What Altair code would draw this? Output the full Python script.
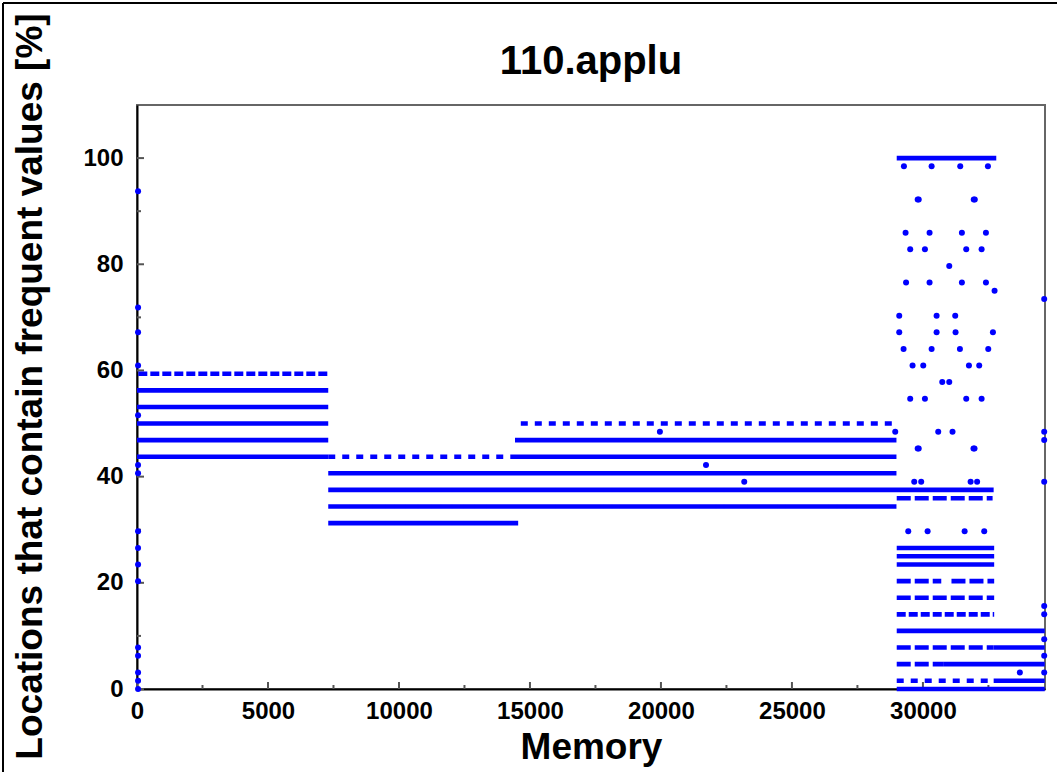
import altair as alt
import pandas as pd

# ---------------- data ----------------
TITLE = "110.applu"
X_TITLE = "Memory"
Y_TITLE = "Locations that contain frequent values [%]"

# horizontal bands of points (start memory, end memory, level %, texture)
seg_x0 = [50, 0, 0, 0, 0, 0,
          7300, 7300, 7300, 7300, 7300,
          14250, 14430, 14650,
          29000, 29000, 29000, 29000, 29000,
          29000, 31090, 29000, 29000, 29000,
          29000, 32700, 29000, 30800, 29000, 32700, 29000]
seg_x1 = [7300, 7300, 7300, 7300, 7300, 7300,
          14250, 28990, 32700, 28990, 14550,
          28990, 28990, 28900,
          32800, 32660, 32720, 32720, 32720,
          30700, 32720, 32720, 32720, 34650,
          32700, 34650, 30800, 34650, 32700, 34650, 34650]
seg_y = [59.38, 56.25, 53.13, 50.0, 46.88, 43.75,
         43.75, 40.63, 37.5, 34.38, 31.25,
         43.75, 46.88, 50.0,
         100.0, 35.94, 26.56, 25.0, 23.44,
         20.31, 20.31, 17.19, 14.06, 10.94,
         7.81, 7.81, 4.69, 4.69, 1.56, 1.56, 0.0]
seg_style = ["dense", "solid", "solid", "solid", "solid", "solid",
             "dotted", "solid", "solid", "solid", "solid",
             "solid", "solid", "dotted",
             "solid", "dashed", "solid", "solid", "solid",
             "dashed", "dashed", "dashed", "dense", "solid",
             "dashed", "solid", "dashed", "solid", "dotted", "solid", "solid"]

# isolated points (memory, %)
pt_x = [40, 40, 40, 40, 40, 40, 40, 40, 40, 40, 40, 40, 40, 40, 40, 40,
        19960, 21720, 23180,
        29275, 30332, 31424, 32481,
        29800, 29840, 31940, 31980,
        29338, 30254, 31488, 32405,
        29515, 30076, 31653, 32240,
        31005,
        29357, 30254, 31488, 32405,
        32735, 34630,
        29096, 30522, 31233,
        29096, 30522, 31246, 32672,
        29262, 30332, 31412, 32494,
        29605, 30012, 31756, 32149,
        30738, 31005,
        29515, 30076, 31653, 32240,
        28943, 30584, 31130, 34630,
        34630,
        29800, 29840, 31930, 31970,
        29668, 29935, 31820, 32069, 34630,
        29440, 30179, 31592, 32340,
        34630, 34630, 34630, 34630, 34630, 33700]
pt_y = [93.75, 71.88, 67.19, 60.94, 51.56, 42.19, 40.63, 29.69, 26.56, 23.44,
        20.31, 7.81, 6.25, 3.13, 1.56, 0.0,
        48.44, 42.19, 39.06,
        98.44, 98.44, 98.44, 98.44,
        92.19, 92.19, 92.19, 92.19,
        85.94, 85.94, 85.94, 85.94,
        82.81, 82.81, 82.81, 82.81,
        79.69,
        76.56, 76.56, 76.56, 76.56,
        75.0, 73.44,
        70.31, 70.31, 70.31,
        67.19, 67.19, 67.19, 67.19,
        64.06, 64.06, 64.06, 64.06,
        60.94, 60.94, 60.94, 60.94,
        57.81, 57.81,
        54.69, 54.69, 54.69, 54.69,
        48.44, 48.44, 48.44, 48.44,
        46.88,
        45.31, 45.31, 45.31, 45.31,
        39.06, 39.06, 39.06, 39.06, 39.06,
        29.69, 29.69, 29.69, 29.69,
        15.63, 14.06, 9.38, 6.25, 3.13, 3.13]

x_major = [0, 5000, 10000, 15000, 20000, 25000, 30000]
x_minor = [2500, 7500, 12500, 17500, 22500, 27500, 32500]
y_major = [0, 20, 40, 60, 80, 100]
y_minor = [10, 30, 50, 70, 90]

X_MAX = 34660
Y_MAX = 110
W, H = 908, 584
BLUE = "#0000ff"
FONT = "Liberation Sans"

segs = pd.DataFrame({"x0": seg_x0, "x1": seg_x1, "y": seg_y, "style": seg_style})
pts = pd.DataFrame({"x": pt_x, "y": pt_y})

xscale = alt.Scale(domain=[0, X_MAX], nice=False, zero=False)
yscale = alt.Scale(domain=[0, Y_MAX], nice=False, zero=False)

xaxis = alt.Axis(values=x_major, format="d", title=X_TITLE, ticks=False,
                 labelPadding=10, labelFlush=False,
                 titleX=W / 2, titleY=58, titleBaseline="middle", titleAnchor="middle")
yaxis = alt.Axis(values=y_major, format="d", title=Y_TITLE, ticks=False,
                 labelPadding=14, labelFlush=False,
                 titleX=-107, titleY=281, titleBaseline="middle",
                 titleAngle=-90, titleAnchor="middle")

bands = alt.Chart(segs).mark_rule(strokeWidth=4.6, color=BLUE, strokeCap="butt").encode(
    x=alt.X("x0:Q", scale=xscale, axis=xaxis),
    x2="x1:Q",
    y=alt.Y("y:Q", scale=yscale, axis=yaxis),
    strokeDash=alt.StrokeDash(
        "style:N",
        scale=alt.Scale(domain=["solid", "dotted", "dashed", "dense"],
                        range=[[1, 0], [7, 7], [14, 4], [9, 3]]),
        legend=None),
)

points = alt.Chart(pts).mark_circle(size=36, color=BLUE, opacity=1).encode(
    x=alt.X("x:Q", scale=xscale),
    y=alt.Y("y:Q", scale=yscale),
)

tick_col = "#555555"
xt_major = alt.Chart(pd.DataFrame({"t": x_major})).mark_rule(color=tick_col, strokeWidth=2).encode(
    x=alt.X("t:Q", scale=xscale), y=alt.value(H), y2=alt.value(H - 7))
xt_minor = alt.Chart(pd.DataFrame({"t": x_minor})).mark_rule(color=tick_col, strokeWidth=2).encode(
    x=alt.X("t:Q", scale=xscale), y=alt.value(H), y2=alt.value(H - 4))
yt_major = alt.Chart(pd.DataFrame({"t": y_major})).mark_rule(color=tick_col, strokeWidth=2).encode(
    y=alt.Y("t:Q", scale=yscale), x=alt.value(0), x2=alt.value(7))
yt_minor = alt.Chart(pd.DataFrame({"t": y_minor})).mark_rule(color=tick_col, strokeWidth=2).encode(
    y=alt.Y("t:Q", scale=yscale), x=alt.value(0), x2=alt.value(4))

title_mark = alt.Chart(pd.DataFrame({"t": [TITLE]})).mark_text(
    font=FONT, fontSize=40, fontWeight="bold", color="black",
    align="center", baseline="middle").encode(
    text="t:N", x=alt.value(W / 2), y=alt.value(62 - 105))

# outer picture frame (decoration)
frame_top = alt.Chart(pd.DataFrame({"a": [0]})).mark_rule(color="black", strokeWidth=2).encode(
    x=alt.value(-134), x2=alt.value(W + 12), y=alt.value(-102))
frame_left = alt.Chart(pd.DataFrame({"a": [0]})).mark_rule(color="black", strokeWidth=2).encode(
    x=alt.value(-134), y=alt.value(-102), y2=alt.value(H + 83))

chart = alt.layer(
    xt_major, xt_minor, yt_major, yt_minor, bands, points,
    title_mark, frame_top, frame_left
).properties(
    width=W, height=H,
    autosize=alt.AutoSizeParams(type="none"),
    padding={"left": 137, "top": 105, "right": 12, "bottom": 83},
    background="white",
).configure_view(
    stroke="#666666", strokeWidth=2
).configure_axis(
    grid=False, domainColor="black", domainWidth=2,
    labelFont=FONT, labelFontWeight="bold", labelFontSize=24, labelColor="black",
    titleFont=FONT, titleFontWeight="bold", titleFontSize=37, titleColor="black",
)

chart.save("out.html", embed_options={"renderer": "svg", "actions": False})
